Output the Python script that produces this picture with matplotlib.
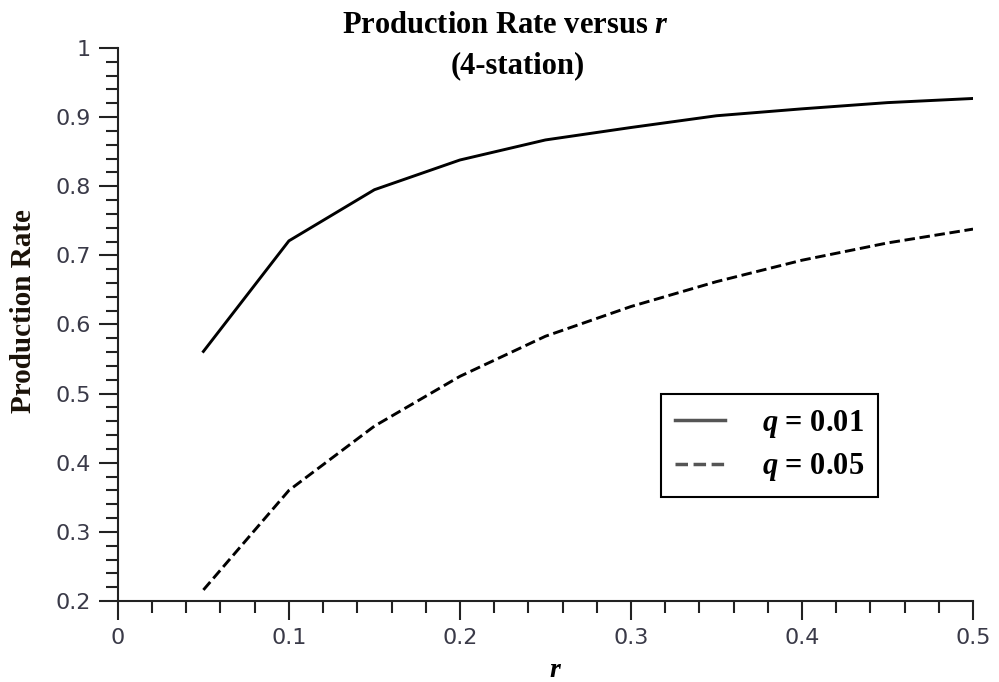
import matplotlib
matplotlib.use("Agg")
import matplotlib.pyplot as plt
from matplotlib.ticker import MultipleLocator, FormatStrFormatter

# Production rate of the 4-station line for two values of q
r_vals = [0.05, 0.10, 0.15, 0.20, 0.25, 0.30, 0.35, 0.40, 0.45, 0.50]
rate_q001 = [0.561, 0.721, 0.795, 0.838, 0.867, 0.885, 0.902, 0.912, 0.921, 0.927]
rate_q005 = [0.216, 0.360, 0.453, 0.525, 0.583, 0.626, 0.662, 0.693, 0.718, 0.738]
series_labels = [r"$q$ = 0.01", r"$q$ = 0.05"]

serif = "Liberation Serif"
plt.rcParams["mathtext.fontset"] = "custom"
plt.rcParams["mathtext.rm"] = serif + ":bold"
plt.rcParams["mathtext.it"] = serif + ":italic:bold"
plt.rcParams["mathtext.bf"] = serif + ":bold"

fig = plt.figure(figsize=(9.99, 6.82), dpi=100)
ax = fig.add_axes([0.118, 0.1188, 0.856, 0.8108])

ax.plot(r_vals, rate_q001, color="black", lw=2.1, solid_joinstyle="round",
        label=series_labels[0])
ax.plot(r_vals, rate_q005, color="black", lw=2.1, dashes=(3.6, 1.6),
        label=series_labels[1])

ax.set_xlim(0, 0.5)
ax.set_ylim(0.2, 1.0)

ax.xaxis.set_major_locator(MultipleLocator(0.1))
ax.xaxis.set_minor_locator(MultipleLocator(0.02))
ax.yaxis.set_major_locator(MultipleLocator(0.1))
ax.yaxis.set_minor_locator(MultipleLocator(0.02))
ax.xaxis.set_major_formatter(FormatStrFormatter("%g"))
ax.yaxis.set_major_formatter(FormatStrFormatter("%g"))

for side in ["top", "right"]:
    ax.spines[side].set_visible(False)
for side in ["left", "bottom"]:
    ax.spines[side].set_linewidth(1.5)
    ax.spines[side].set_color("#222222")

ax.tick_params(which="major", direction="out", length=13.5, width=1.5,
               color="#222222", labelsize=16, labelcolor="#3a3a48", pad=6)
ax.tick_params(which="minor", direction="out", length=8.5, width=1.5,
               color="#222222")

ax.set_xlabel(r"$r$", fontsize=20, labelpad=0)
ax.xaxis.set_label_coords(0.512, -0.097)
ax.set_ylabel("Production Rate", fontfamily=serif, fontweight="bold",
              fontsize=21, color="#1a1208")
ax.yaxis.set_label_coords(-0.094, 0.524)

# two-line title, set slightly left of the axes centre
fig.text(0.506, 0.962, r"Production Rate versus $r$", ha="center", va="center",
         fontfamily=serif, fontweight="bold", fontsize=22)
fig.text(0.518, 0.904, "(4-station)", ha="center", va="center",
         fontfamily=serif, fontweight="bold", fontsize=22)

leg = ax.legend(loc="upper left", bbox_to_anchor=(661 / 999, 1 - 394 / 682),
                bbox_transform=fig.transFigure, borderaxespad=0,
                prop={"family": serif, "weight": "bold", "size": 22},
                fancybox=False, framealpha=1, edgecolor="black",
                handlelength=1.65, handletextpad=1.2, borderpad=0.45,
                labelspacing=0.38)
leg.get_frame().set_linewidth(1.5)
for line in leg.get_lines():
    line.set_color("#555555")
    line.set_linewidth(2.5)

fig.savefig("out.png", dpi=100)
